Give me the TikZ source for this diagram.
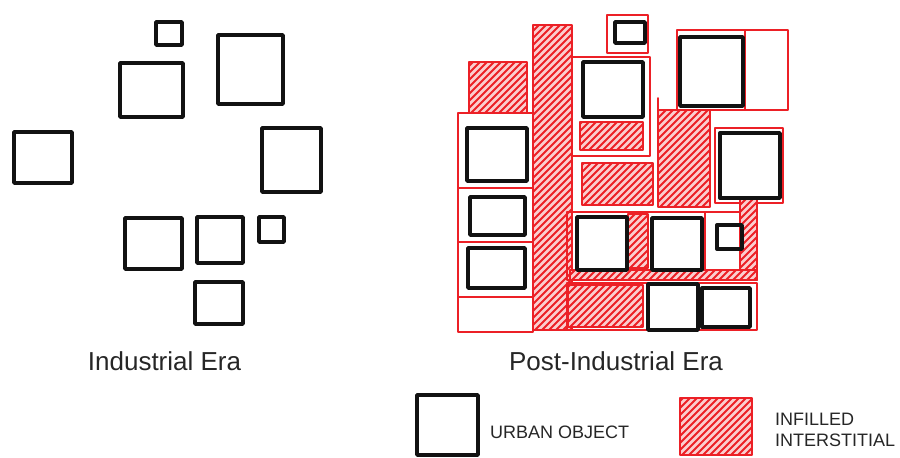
\documentclass[tikz,border=0pt]{standalone}
\usepackage{fontspec}
\setmainfont{Liberation Sans}
\definecolor{pen}{RGB}{236,32,38}
\definecolor{ink}{RGB}{18,18,18}
\tikzset{
 obj/.style={draw=ink,line width=3.4pt,line join=round,line cap=round},
 rline/.style={draw=pen,line width=1.6pt,line join=round,line cap=round},
 hline/.style={draw=pen,line width=1.8pt,line cap=round},
 lbl/.style={font=\fontsize{26}{30}\selectfont,text=black!85,inner sep=0pt},
 leg/.style={font=\fontsize{18}{21}\selectfont,text=black!85,inner sep=0pt,align=left,anchor=west},
}
\newcommand\hatchbox[4]{%
 \begin{scope}
 \clip (#1,#2) rectangle (#3,#4);
 \fill[pen!22] (#1,#2) rectangle (#3,#4);
 \foreach \k in {-320,-313,...,200}{\draw[hline] ({#1+\k},{#4}) -- ++(330,-330);}
 \end{scope}
 \draw[rline] (#1,#2) rectangle (#3,#4);}
\newcommand\objbox[4]{\draw[obj] (#1,#2) rectangle (#3,#4);}
\begin{document}
\begin{tikzpicture}[x=1pt,y=-1pt]
\useasboundingbox (0,0) rectangle (900,458);
% ---------- Industrial Era ----------
\objbox{156}{22}{182}{45}
\objbox{120}{63}{183}{117}
\objbox{218}{35}{283}{104}
\objbox{14}{132}{72}{183}
\objbox{262}{128}{321}{192}
\objbox{125}{218}{182}{269}
\objbox{197}{217}{243}{263}
\objbox{259}{217}{284}{242}
\objbox{195}{282}{243}{324}
% ---------- Post-Industrial Era : red structure ----------
\draw[rline] (458,113) rectangle (533,332);
\draw[rline] (458,188) -- (533,188);
\draw[rline] (458,242) -- (533,242);
\draw[rline] (458,297) -- (533,297);
\hatchbox{469}{62}{527}{113}
\hatchbox{533}{25}{572}{330}
\draw[rline] (607,15) rectangle (648,53);
\draw[rline] (572,57) rectangle (650,156);
\hatchbox{580}{122}{643}{150}
\hatchbox{582}{163}{653}{205}
\hatchbox{658}{110}{710}{207}
\draw[rline] (658,98) -- (658,110);
\draw[rline] (677,30) rectangle (788,110);
\draw[rline] (745,30) -- (745,110);
\draw[rline] (715,128) rectangle (783,203);
\draw[rline] (567,212) rectangle (757,280);
\draw[rline] (705,212) -- (705,270);
\hatchbox{628}{214}{648}{268}
\hatchbox{740}{198}{757}{280}
\hatchbox{570}{270}{757}{280}
\draw[rline] (567,283) rectangle (757,330);
\hatchbox{568}{285}{643}{327}
% ---------- Post-Industrial Era : objects ----------
\objbox{615}{22}{645}{43}
\objbox{583}{62}{643}{117}
\objbox{680}{37}{743}{106}
\objbox{467}{128}{527}{181}
\objbox{720}{133}{780}{198}
\objbox{470}{197}{525}{235}
\objbox{468}{248}{525}{288}
\objbox{577}{217}{627}{270}
\objbox{652}{218}{702}{270}
\objbox{717}{225}{742}{249}
\objbox{648}{284}{698}{330}
\objbox{702}{288}{750}{327}
% ---------- labels ----------
\node[lbl] (era1) at (164.5,361) {Industrial Era};
\node[lbl] (era2) at (616,361) {Post-Industrial Era};
% ---------- legend ----------
\objbox{417}{395}{478}{455}
\node[leg] (legobj) at (490,432) {URBAN OBJECT};
\hatchbox{680}{398}{752}{455}
\node[leg] (leginf) at (775,430) {INFILLED\\INTERSTITIAL};
\end{tikzpicture}
\end{document}
